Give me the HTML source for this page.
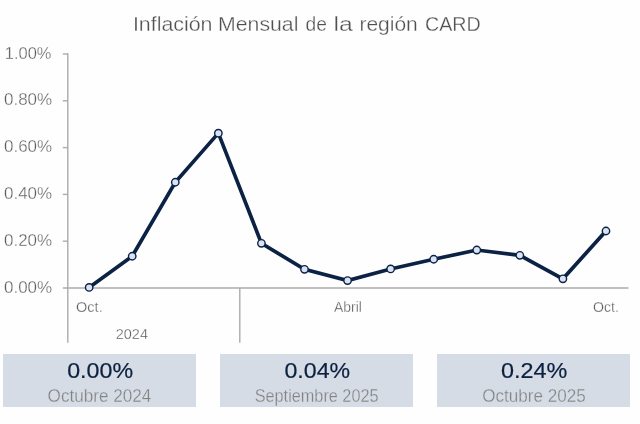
<!DOCTYPE html>
<html><head><meta charset="utf-8"><style>
html,body{margin:0;padding:0;background:#fefefe;}
svg{display:block;will-change:transform;font-family:"Liberation Sans",sans-serif;}
</style></head><body>
<svg width="640" height="424" viewBox="0 0 640 424">
<rect width="640" height="424" fill="#fefefe"/>
<g stroke="#ababab" stroke-width="1.4" fill="none">
<line x1="67.8" y1="53.2" x2="67.8" y2="342.8"/>
<line x1="62.8" y1="288" x2="628.5" y2="288"/>
<line x1="239.8" y1="288" x2="239.8" y2="342.8"/>
<line x1="62.8" y1="54.00" x2="67.8" y2="54.00"/>
<line x1="62.8" y1="100.80" x2="67.8" y2="100.80"/>
<line x1="62.8" y1="147.60" x2="67.8" y2="147.60"/>
<line x1="62.8" y1="194.40" x2="67.8" y2="194.40"/>
<line x1="62.8" y1="241.20" x2="67.8" y2="241.20"/>
</g>
<polyline points="89.14,287.40 132.21,256.25 175.28,182.26 218.35,133.14 261.42,243.30 304.49,269.30 347.56,280.60 390.63,268.97 433.70,259.26 476.77,250.02 519.84,255.32 562.91,278.85 605.98,231.00" fill="none" stroke="#0b2245" stroke-width="3.7" stroke-linejoin="miter"/>
<g fill="#dae3f3" stroke="#0b2245" stroke-width="1.4">
<circle cx="89.14" cy="287.40" r="3.7"/>
<circle cx="132.21" cy="256.25" r="3.7"/>
<circle cx="175.28" cy="182.26" r="3.7"/>
<circle cx="218.35" cy="133.14" r="3.7"/>
<circle cx="261.42" cy="243.30" r="3.7"/>
<circle cx="304.49" cy="269.30" r="3.7"/>
<circle cx="347.56" cy="280.60" r="3.7"/>
<circle cx="390.63" cy="268.97" r="3.7"/>
<circle cx="433.70" cy="259.26" r="3.7"/>
<circle cx="476.77" cy="250.02" r="3.7"/>
<circle cx="519.84" cy="255.32" r="3.7"/>
<circle cx="562.91" cy="278.85" r="3.7"/>
<circle cx="605.98" cy="231.00" r="3.7"/>
</g>
<g fill="#d6dce5">
<rect x="3" y="354" width="193" height="53"/>
<rect x="220" y="354" width="193" height="53"/>
<rect x="437" y="354" width="193" height="53"/>
</g>
<text x="132.90" y="31" font-size="20.5" fill="#505050" stroke="#fefefe" stroke-width="0.3" textLength="79.61" lengthAdjust="spacingAndGlyphs">Inflación</text>
<text x="218.10" y="31" font-size="20.5" fill="#505050" stroke="#fefefe" stroke-width="0.3" textLength="80.30" lengthAdjust="spacingAndGlyphs">Mensual</text>
<text x="305.50" y="31" font-size="20.5" fill="#505050" stroke="#fefefe" stroke-width="0.3" textLength="21.40" lengthAdjust="spacingAndGlyphs">de</text>
<text x="333.40" y="31" font-size="20.5" fill="#505050" stroke="#fefefe" stroke-width="0.3" textLength="19.27" lengthAdjust="spacingAndGlyphs">la</text>
<text x="359.40" y="31" font-size="20.5" fill="#505050" stroke="#fefefe" stroke-width="0.3" textLength="58.39" lengthAdjust="spacingAndGlyphs">región</text>
<text x="425.00" y="31" font-size="20.5" fill="#505050" stroke="#fefefe" stroke-width="0.3" textLength="55.74" lengthAdjust="spacingAndGlyphs">CARD</text>
<text x="76.10" y="311.5" font-size="14" fill="#545454" stroke="#fefefe" stroke-width="0.3" textLength="26.58" lengthAdjust="spacingAndGlyphs">Oct.</text>
<text x="334.00" y="311.5" font-size="14" fill="#545454" stroke="#fefefe" stroke-width="0.3" textLength="27.86" lengthAdjust="spacingAndGlyphs">Abril</text>
<text x="593.00" y="311.5" font-size="14" fill="#545454" stroke="#fefefe" stroke-width="0.3" textLength="25.87" lengthAdjust="spacingAndGlyphs">Oct.</text>
<text x="115.70" y="339" font-size="14" fill="#545454" stroke="#fefefe" stroke-width="0.3" textLength="32.27" lengthAdjust="spacingAndGlyphs">2024</text>
<text x="67.20" y="377.7" font-size="22.6" fill="#0b203f" stroke="#0b203f" stroke-width="0.2" textLength="65.85" lengthAdjust="spacingAndGlyphs">0.00%</text>
<text x="284.50" y="377.7" font-size="22.6" fill="#0b203f" stroke="#0b203f" stroke-width="0.2" textLength="65.61" lengthAdjust="spacingAndGlyphs">0.04%</text>
<text x="501.10" y="377.7" font-size="22.6" fill="#0b203f" stroke="#0b203f" stroke-width="0.2" textLength="66.34" lengthAdjust="spacingAndGlyphs">0.24%</text>
<text x="47.60" y="402" font-size="18" fill="#838383" stroke="#d6dce5" stroke-width="0.3" textLength="103.76" lengthAdjust="spacingAndGlyphs">Octubre 2024</text>
<text x="254.70" y="402" font-size="18" fill="#838383" stroke="#d6dce5" stroke-width="0.3" textLength="123.86" lengthAdjust="spacingAndGlyphs">Septiembre 2025</text>
<text x="482.20" y="402" font-size="18" fill="#838383" stroke="#d6dce5" stroke-width="0.3" textLength="103.61" lengthAdjust="spacingAndGlyphs">Octubre 2025</text>
<text x="4.80" y="58.5" font-size="16.5" fill="#5c5c5c" stroke="#fefefe" stroke-width="0.3" textLength="46.63" lengthAdjust="spacingAndGlyphs">1.00%</text>
<text x="4.00" y="105.3" font-size="16.5" fill="#5c5c5c" stroke="#fefefe" stroke-width="0.3" textLength="48.14" lengthAdjust="spacingAndGlyphs">0.80%</text>
<text x="4.00" y="152.1" font-size="16.5" fill="#5c5c5c" stroke="#fefefe" stroke-width="0.3" textLength="48.14" lengthAdjust="spacingAndGlyphs">0.60%</text>
<text x="4.00" y="198.89999999999998" font-size="16.5" fill="#5c5c5c" stroke="#fefefe" stroke-width="0.3" textLength="48.14" lengthAdjust="spacingAndGlyphs">0.40%</text>
<text x="4.00" y="245.7" font-size="16.5" fill="#5c5c5c" stroke="#fefefe" stroke-width="0.3" textLength="48.14" lengthAdjust="spacingAndGlyphs">0.20%</text>
<text x="4.00" y="292.5" font-size="16.5" fill="#5c5c5c" stroke="#fefefe" stroke-width="0.3" textLength="48.14" lengthAdjust="spacingAndGlyphs">0.00%</text>
</svg>
</body></html>
